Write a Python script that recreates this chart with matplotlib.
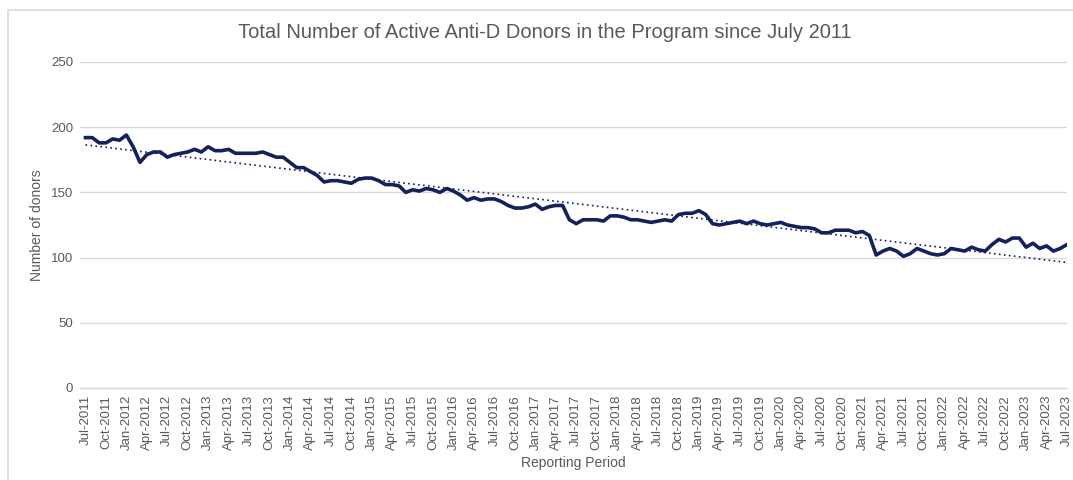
import numpy as np
import pandas as pd
import matplotlib
matplotlib.use("Agg")
import matplotlib.pyplot as plt
from matplotlib.patches import Rectangle

plt.rcParams['font.family'] = ['Liberation Sans', 'DejaVu Sans']

# Reporting periods: monthly, Jul-2011 .. Jul-2023
periods = pd.date_range('2011-07-01', '2023-07-01', freq='MS')
period_labels = [d.strftime('%b-%Y') for d in periods]

donors = [
    192, 192, 188, 188, 191, 190, 194, 185, 173, 179,
    181, 181, 177, 179, 180, 181, 183, 181, 185, 182,
    182, 183, 180, 180, 180, 180, 181, 179, 177, 177,
    173, 169, 169, 166, 163, 158, 159, 159, 158, 157,
    160, 161, 161, 159, 156, 156, 155, 150, 152, 151,
    153, 152, 150, 153, 151, 148, 144, 146, 144, 145,
    145, 143, 140, 138, 138, 139, 141, 137, 139, 140,
    140, 129, 126, 129, 129, 129, 128, 132, 132, 131,
    129, 129, 128, 127, 128, 129, 128, 133, 134, 134,
    136, 133, 126, 125, 126, 127, 128, 126, 128, 126,
    125, 126, 127, 125, 124, 123, 123, 122, 119, 119,
    121, 121, 121, 119, 120, 117, 102, 105, 107, 105,
    101, 103, 107, 105, 103, 102, 103, 107, 106, 105,
    108, 106, 105, 110, 114, 112, 115, 115, 108, 111,
    107, 109, 105, 107, 110,
]

title = "Total Number of Active Anti-D Donors in the Program since July 2011"
y_ticks = [0, 50, 100, 150, 200, 250]

W, H = 1073, 480
fig = plt.figure(figsize=(W / 100, H / 100), dpi=100)
fig.patch.set_facecolor('white')

# outer chart frame (partially cropped)
fig.patches.append(Rectangle((8 / W, -0.05), 1.2, (H - 10) / H + 0.05,
                             transform=fig.transFigure, fill=False,
                             edgecolor='#d9d9d9', linewidth=1.2))

ax = fig.add_axes([80 / W, 1 - 388 / H, (1067 - 80) / W, (388 - 62) / H])

x = np.arange(len(donors))
y = np.array(donors, dtype=float)

ax.plot(x, y, color='#14215a', linewidth=2.6, solid_joinstyle='round', zorder=3)

# linear trendline
coef = np.polyfit(x, y, 1)
ax.plot(x, np.polyval(coef, x), color='#14215a', linestyle=(0, (1, 2)),
        linewidth=1.2, zorder=2)

ax.set_ylim(0, 250)
ax.set_xlim(-0.8, len(donors) - 1 + 0.0)
ax.set_yticks(y_ticks)
ax.yaxis.grid(True, color='#d9d9d9', linewidth=1)
ax.set_axisbelow(True)
for s in ['top', 'right', 'left']:
    ax.spines[s].set_visible(False)
ax.spines['bottom'].set_color('#d9d9d9')
ax.spines['bottom'].set_linewidth(1)

tick_pos = x[::3]
ax.set_xticks(tick_pos)
ax.set_xticklabels([period_labels[i] for i in tick_pos], rotation=90,
                   fontsize=9.5, color='#595959')
ax.tick_params(axis='x', length=0, pad=5)
ax.tick_params(axis='y', length=0, pad=5, labelsize=9.5, labelcolor='#595959')

ax.set_xlabel('Reporting Period', fontsize=10, color='#595959', labelpad=4)
ax.set_ylabel('Number of donors', fontsize=10, color='#595959')
ax.yaxis.set_label_coords((44 - 80) / (1067 - 80), 0.5)

fig.text(545 / W, 1 - 33 / H, title, ha='center', va='center',
         fontsize=14.5, color='#595959')

fig.savefig('out.png', dpi=100, facecolor='white')
